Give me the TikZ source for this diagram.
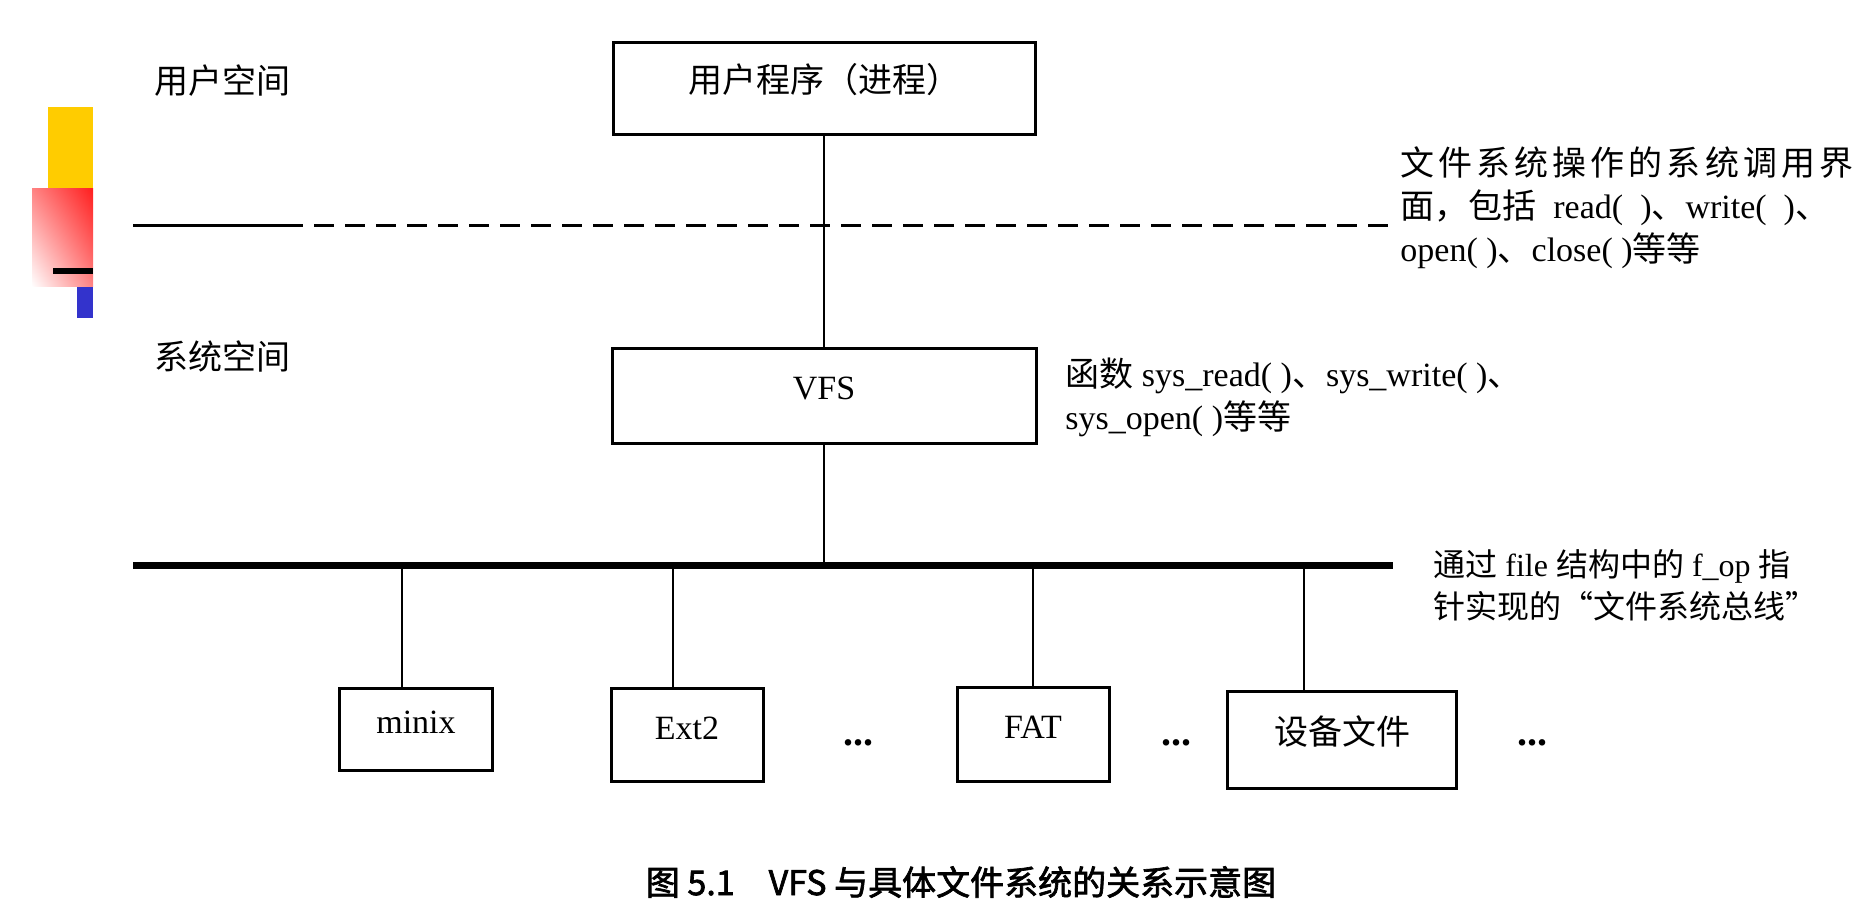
\documentclass[tikz,border=0pt]{standalone}
\usepackage{fontspec}
\usetikzlibrary{shadings}
\setmainfont{Liberation Serif}
\newfontfamily\zhfont{Noto Sans CJK SC}
\newfontfamily\zhwide[LetterSpace=12]{Noto Sans CJK SC}
\newfontfamily\zhbold[FakeBold=2]{Noto Sans CJK SC}
\newcommand{\zh}[1]{{\zhfont #1}}
\definecolor{decoyellow}{HTML}{FFCC00}
\definecolor{decored}{HTML}{FF1F1F}
\definecolor{decoblue}{HTML}{3333CC}

\begin{document}
\begin{tikzpicture}[x=0.5pt, y=-0.5pt,
  every node/.style={font=\fontsize{17}{21.5}\selectfont},
  box/.style={draw, line width=1.5pt, inner sep=0pt, text height=15pt, text depth=11pt},
  link/.style={line width=1.2pt},
  note/.style={anchor=north west, inner sep=0pt, align=left},
  side/.style={anchor=west, inner sep=0pt},
  dots/.style={anchor=base, font=\fontsize{20}{24}\selectfont\bfseries}]
\useasboundingbox (0,0) rectangle (1861,914);

% bars on the left
\fill[decoyellow] (48,107) rectangle (93,189);
\shade[upper right=decored, lower left=white, upper left=decored!55!white, lower right=decored!55!white] (32,189) rectangle (93,287);
\fill[black] (53,268) rectangle (93,274);
\fill[decoblue] (77,287) rectangle (93,318);

% boxes
\node[box, minimum width=211pt, minimum height=46pt] (user) at (824,89) {\zh{用户程序（进程）}};
\node[box, minimum width=212pt, minimum height=47pt] (vfs) at (824,396) {VFS};
\node[box, minimum width=76.5pt, minimum height=41pt] (minix) at (416,729) {minix};
\node[box, minimum width=76pt, minimum height=46.5pt] (ext) at (687,735) {Ext2};
\node[box, minimum width=76pt, minimum height=47pt] (fat) at (1033,734) {FAT};
\node[box, minimum width=114.5pt, minimum height=48.5pt] (dev) at (1342,740) {\zh{设备文件}};

% dots
\node[dots] (dots1) at (858,745) {...};
\node[dots] (dots2) at (1176,745) {...};
\node[dots] (dots3) at (1532,745) {...};

% user / system boundary
\coordinate (dl) at (133,226);
\coordinate (dm) at (303,226);
\coordinate (dr) at (1392,226);
\draw[line width=1.5pt] (dl) -- (dm);
\draw[line width=1.5pt, dash pattern=on 10pt off 5.5pt, dash phase=10pt] (dm) -- (dr);

% bus
\coordinate (busl) at (133,565);
\coordinate (busr) at (1393,565);
\draw[line width=3.5pt] (busl) -- (busr);

% links
\draw[link] (user) -- (vfs);
\draw[link] (vfs.south) -- (vfs.south |- busl);
\foreach \x/\fs in {402/minix, 673/ext, 1033/fat, 1304/dev} {
  \coordinate (tap-\fs) at (\x,565);
  \draw[link] (tap-\fs) -- (tap-\fs |- \fs.north);
}

% labels
\node[side] (userspace) at (154,81) {\zh{用户空间}};
\node[side] (sysspace) at (154,356) {\zh{系统空间}};
\node[note] (callnote) at (1400,146) {{\zhwide 文件系统操作的系统调用界}\\
  \zh{面，包括}\enspace read(\ \ )\zh{、}write(\ \ )\zh{、}\\
  open( )\zh{、}close( )\zh{等等}};
\node[note] (sysnote) at (1065,358) {\zh{函数} sys\_read( )\zh{、}sys\_write( )\zh{、}\\
  sys\_open( )\zh{等等}};
\node[note, font=\fontsize{16}{21}\selectfont] (busnote) at (1433,549) {\zh{通过} file \zh{结构中的} f\_op \zh{指}\\
  \zh{针实现的“文件系统总线”}};
\node (caption) at (961,882) {\zhbold 图 5.1\quad VFS 与具体文件系统的关系示意图};

\end{tikzpicture}
\end{document}
